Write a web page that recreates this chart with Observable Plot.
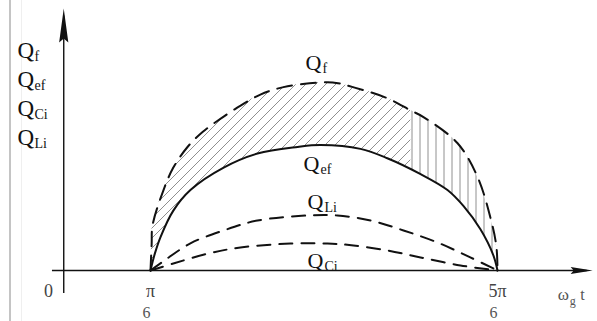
<!DOCTYPE html>
<html>
<head>
<meta charset="utf-8">
<script src="https://cdn.jsdelivr.net/npm/d3@7"></script>
<script src="https://cdn.jsdelivr.net/npm/@observablehq/plot@0.6"></script>
<style>
  html, body { margin: 0; padding: 0; background: #fff; }
  #wrap { position: relative; width: 597px; height: 321px; overflow: hidden; }
  #edge { position: absolute; left: 9px; top: 0; width: 2px; height: 321px; background: #c4c4c4; }
  #edge2 { position: absolute; left: 21px; top: 0; width: 1px; height: 321px; background: #efefef; }
</style>
</head>
<body>
<svg width="0" height="0" style="position:absolute">
  <defs>
    <pattern id="hatch-diag" patternUnits="userSpaceOnUse" width="10" height="10">
      <path d="M-1,1 L1,-1 M0,10 L10,0 M9,11 L11,9" stroke="#6a6a6a" stroke-width="0.75"/>
    </pattern>
    <pattern id="hatch-vert" patternUnits="userSpaceOnUse" width="8" height="8">
      <rect width="8" height="8" fill="#fff"/>
      <path d="M4,0 V8" stroke="#6a6a6a" stroke-width="0.75"/>
    </pattern>
  </defs>
</svg>
<div id="wrap"><div id="edge"></div><div id="edge2"></div></div>
<script>
// Angle in degrees (π/6 = 30°, 5π/6 = 150°), reactive power in relative units.
const qf  = [[30,0],[30.4,0.14],[30.7,0.24],[34.5,0.43],[37.9,0.55],[42.8,0.66],[48,0.74],[53.2,0.80],
             [60,0.87],[68,0.94],[76,0.98],[85,1.0],[93,1.005],[100,0.98],[112,0.92],[120,0.855],
             [124.4,0.82],[136.2,0.68],[143.1,0.50],[147.6,0.28],[149.6,0.13],[150,0]];
const qef = [[30,0],[31.5,0.09],[33.5,0.18],[37.9,0.32],[43.8,0.43],[55.3,0.55],[67,0.625],[80.9,0.66],[88.8,0.67],
             [102.6,0.65],[111.9,0.60],[123.4,0.515],[132.7,0.43],[138.2,0.345],[144.1,0.22],[148.6,0.08],[150,0]];
const qli = [[30,0],[34.5,0.05],[43.8,0.145],[55.3,0.214],[67,0.267],[84.3,0.294],[94.6,0.294],
             [106.1,0.267],[117.5,0.214],[129.2,0.15],[140.6,0.07],[150,0]];
const qci = [[30,0],[37.9,0.037],[49.7,0.09],[61.1,0.123],[78.4,0.144],[91.2,0.144],[100.2,0.134],
             [112,0.107],[123.4,0.07],[137.2,0.027],[150,0]];

// Tick labels on the angle axis
const tickTop = [{x: 30, t: "π"}, {x: 150, t: "5π"}];
const tickBottom = [{x: 28.6, t: "6"}, {x: 148.6, t: "6"}];

// Curve names (main letter + subscript)
const axisNames = [{t: "f", y: 1.133}, {t: "ef", y: 0.983}, {t: "Ci", y: 0.828}, {t: "Li", y: 0.673}];
const curveNames = [
  {t: "f", x: 83.6, y: 1.074},
  {t: "ef", x: 82.9, y: 0.534},
  {t: "Li", x: 84.3, y: 0.331},
  {t: "Ci", x: 84.3, y: 0.011}
];

const pt = d => ({x: d[0], y: d[1]});
const QF = qf.map(pt), QEF = qef.map(pt), QLI = qli.map(pt), QCI = qci.map(pt);
const curve = "catmull-rom";
const serif = "Liberation Serif, Times New Roman, serif";

// Filled arrowheads for the two axes (tip at the origin of the symbol)
const headRight = {draw(c) { c.moveTo(0, 0); c.lineTo(-22, -3.6); c.lineTo(-19, 0); c.lineTo(-22, 3.6); c.closePath(); }};
const headUp = {draw(c) { c.moveTo(0, 0); c.lineTo(4.6, 34); c.lineTo(0, 30); c.lineTo(-4.6, 34); c.closePath(); }};

const chart = Plot.plot({
  width: 597,
  height: 321,
  margin: 0,
  x: {type: "linear", domain: [-21.87, 184.58], range: [0, 597]},
  y: {type: "linear", domain: [0, 1.4], range: [270, 8]},
  axis: null,
  style: {background: "transparent", fontFamily: serif, color: "#111"},
  marks: [
    // hatched band between Q_f and Q_ef
    Plot.areaY(QF, {x: "x", y: "y", curve, fill: "url(#hatch-diag)"}),
    Plot.areaY(QF.filter(d => d.x >= 120), {x: "x", y: "y", curve, fill: "url(#hatch-vert)"}),
    Plot.areaY(QEF, {x: "x", y: "y", curve, fill: "#fff"}),

    // axes
    Plot.ruleY([0], {x1: -3.9, x2: 181, stroke: "#111", strokeWidth: 1.6}),
    Plot.ruleX([0], {y1: -0.123, y2: 1.36, stroke: "#111", strokeWidth: 1.4}),
    Plot.dot([{x: 182.9, y: 0}], {x: "x", y: "y", symbol: headRight, fill: "#111", stroke: "none"}),
    Plot.dot([{x: 0, y: 1.4}], {x: "x", y: "y", symbol: headUp, fill: "#111", stroke: "none"}),

    // curves
    Plot.line(QF, {x: "x", y: "y", curve, stroke: "#111", strokeWidth: 2, strokeDasharray: "15,9"}),
    Plot.line(QEF, {x: "x", y: "y", curve, stroke: "#111", strokeWidth: 2}),
    Plot.line(QLI, {x: "x", y: "y", curve, stroke: "#111", strokeWidth: 2, strokeDasharray: "13,9"}),
    Plot.line(QCI, {x: "x", y: "y", curve, stroke: "#111", strokeWidth: 2, strokeDasharray: "13,9"}),

    // names along the vertical axis
    Plot.text(axisNames, {x: -16.0, y: "y", text: () => "Q", textAnchor: "start", lineAnchor: "bottom", fontSize: 23, fill: "#111"}),
    Plot.text(axisNames, {x: -16.0, y: "y", text: "t", dx: 17, dy: 3, textAnchor: "start", lineAnchor: "bottom", fontSize: 14, fill: "#111"}),

    // names on the curves
    Plot.text(curveNames, {x: "x", y: "y", text: () => "Q", textAnchor: "start", lineAnchor: "bottom", fontSize: 22, fill: "#111"}),
    Plot.text(curveNames, {x: "x", y: "y", text: "t", dx: 17, dy: 3, textAnchor: "start", lineAnchor: "bottom", fontSize: 14, fill: "#111"}),

    // tick labels
    Plot.text([0], {x: -5.3, y: -0.139, text: () => "0", lineAnchor: "bottom", fontSize: 18, fill: "#444"}),
    Plot.text(tickTop, {x: "x", y: -0.139, text: "t", lineAnchor: "bottom", fontSize: 18, fill: "#444"}),
    Plot.text(tickBottom, {x: "x", y: -0.252, text: "t", lineAnchor: "bottom", fontSize: 16, fill: "#555"}),

    // angle-axis name ω_g t
    Plot.text([0], {x: 170.8, y: -0.160, text: () => "ω", textAnchor: "start", lineAnchor: "bottom", fontSize: 17, fill: "#555"}),
    Plot.text([0], {x: 175.0, y: -0.182, text: () => "g", textAnchor: "start", lineAnchor: "bottom", fontSize: 12, fill: "#555"}),
    Plot.text([0], {x: 178.6, y: -0.160, text: () => "t", textAnchor: "start", lineAnchor: "bottom", fontSize: 16, fill: "#555"})
  ]
});

chart.style.position = "absolute";
chart.style.left = "0";
chart.style.top = "0";
document.getElementById("wrap").appendChild(chart);
</script>
</body>
</html>
